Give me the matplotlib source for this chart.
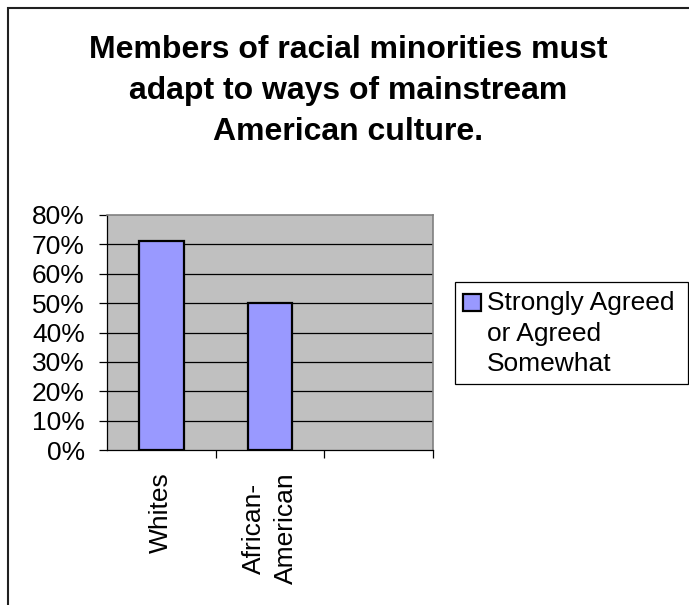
import matplotlib
matplotlib.use("Agg")
import matplotlib.pyplot as plt
from matplotlib.patches import Rectangle
import numpy as np

plt.rcParams["font.family"] = ["Liberation Sans", "DejaVu Sans"]

title = "Members of racial minorities must\nadapt to ways of mainstream\nAmerican culture."
categories = ["Whites", "African-\nAmerican", ""]
values = [0.71, 0.50]
series_label = "Strongly Agreed\nor Agreed\nSomewhat"
yticks = [0.0, 0.1, 0.2, 0.3, 0.4, 0.5, 0.6, 0.7, 0.8]

W, H = 689, 605
fig = plt.figure(figsize=(W / 100, H / 100), dpi=100)
fig.patch.set_facecolor("white")

# axes placed in pixel coordinates of the reference
ax = fig.add_axes([107 / W, 1 - 450 / H, (433 - 107) / W, (450 - 215) / H])
ax.set_facecolor("#C0C0C0")

x = np.arange(len(values))
ax.bar(x, values, width=0.41, color="#9999FF", edgecolor="black", linewidth=1.6, zorder=3)

ax.set_xlim(-0.5, len(categories) - 0.5)
ax.set_ylim(0, 0.8)
ax.set_yticks(yticks, [f"{v:.0%}" for v in yticks])
for v in yticks[1:-1]:
    ax.axhline(v, color="black", linewidth=0.9, zorder=1)

ax.set_xticks(np.arange(len(categories)), categories, rotation=90, va="top", ha="center",
              linespacing=1.45)
ax.set_xticks(np.arange(len(categories)) + 0.5, minor=True)
ax.tick_params(axis="x", which="major", length=0, pad=16, labelsize=19)
ax.tick_params(axis="x", which="minor", length=6, width=0.9, direction="out", color="black")
ax.tick_params(axis="y", length=6, width=0.9, direction="out", pad=10, labelsize=19)

for side in ("top", "right"):
    ax.spines[side].set_color("#808080")
    ax.spines[side].set_linewidth(1.2)
for side in ("left", "bottom"):
    ax.spines[side].set_color("black")
    ax.spines[side].set_linewidth(0.9)

fig.text(348 / W, 1 - 91 / H, title, ha="center", va="center", fontsize=23,
         fontweight="bold", linespacing=1.5)

# legend box, drawn by hand to keep the swatch on the first line
fig.patches.append(Rectangle((455 / W, 1 - 384 / H), (688 - 455) / W, (384 - 282) / H,
                             transform=fig.transFigure, facecolor="white",
                             edgecolor="black", linewidth=0.9))
fig.patches.append(Rectangle((463 / W, 1 - 311 / H), 18 / W, 17 / H,
                             transform=fig.transFigure, facecolor="#9999FF",
                             edgecolor="black", linewidth=1.6))
fig.text(487 / W, 1 - 291 / H, series_label, ha="left", va="top", fontsize=19,
         linespacing=1.35)

# chart border
fig.patches.append(Rectangle((8 / W, -0.1), 2.0, 1.1 - 8 / H, transform=fig.transFigure,
                             fill=False, edgecolor="#202020", linewidth=1.5))

fig.savefig("out.png", dpi=100)
